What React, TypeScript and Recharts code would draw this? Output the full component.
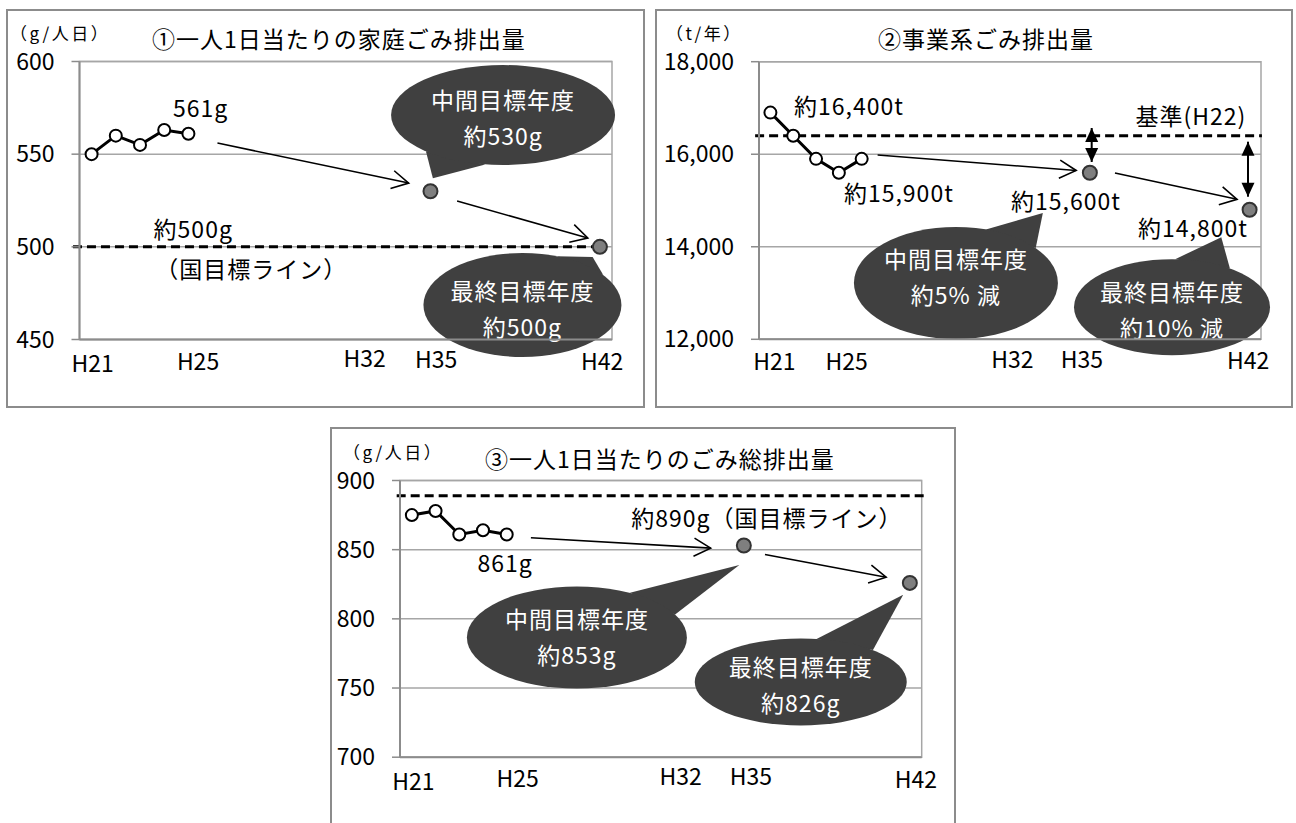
import React from "react"
import { LineChart, Line, XAxis, YAxis, CartesianGrid, ReferenceLine, ReferenceDot, ReferenceArea } from "recharts"

const FONT = "'Noto Sans CJK JP', 'Noto Sans', sans-serif"
const GRID = "#a6a6a6"
const AXIS = "#8c8c8c"
const BUBBLE = "#404040"

// 年度 (平成)
const years = [21, 22, 23, 24, 25]
const targetYears = [35, 42]
const xTicks = [21, 25, 32, 35, 42]

// ① 一人1日当たりの家庭ごみ排出量 (g/人日)
const household = [550, 560, 555, 563, 561]
const householdTarget = [530, 500]
const householdLine = 500
const householdTicks = [450, 500, 550, 600]

// ② 事業系ごみ排出量 (t/年)
const business = [16900, 16400, 15900, 15600, 15900]
const businessTarget = [15600, 14800]
const businessBase = 16400
const businessTicks = [12000, 14000, 16000, 18000]

// ③ 一人1日当たりのごみ総排出量 (g/人日)
const total = [875, 878, 861, 864, 861]
const totalTarget = [853, 826]
const totalLine = 889
const totalTicks = [700, 750, 800, 850, 900]

const buildRows = (actual: number[], target: number[]) => [
  ...years.map((year, i) => ({ year, actual: actual[i] })),
  ...targetYears.map((year, i) => ({ year, target: target[i] })),
]

const openArrow = (p: any) => {
  const { x1, y1, x2, y2 } = p
  const a = Math.atan2(y2 - y1, x2 - x1)
  const L = 19
  const s = 0.5
  const h1 = [x2 - L * Math.cos(a - s), y2 - L * Math.sin(a - s)]
  const h2 = [x2 - L * Math.cos(a + s), y2 - L * Math.sin(a + s)]
  return (
    <g>
      <line x1={x1} y1={y1} x2={x2} y2={y2} stroke="#000" strokeWidth={1.6} />
      <polyline points={`${h1[0]},${h1[1]} ${x2},${y2} ${h2[0]},${h2[1]}`} fill="none" stroke="#000" strokeWidth={1.6} />
    </g>
  )
}

const doubleArrow = (p: any) => {
  const { x1, y1, x2, y2 } = p
  const a = Math.atan2(y2 - y1, x2 - x1)
  const L = 14
  const W = 6.5
  const head = (tx: number, ty: number, dir: number) => {
    const bx = tx - dir * L * Math.cos(a)
    const by = ty - dir * L * Math.sin(a)
    const nx = -Math.sin(a) * W
    const ny = Math.cos(a) * W
    return `${tx},${ty} ${bx + nx},${by + ny} ${bx - nx},${by - ny}`
  }
  return (
    <g>
      <line x1={x1} y1={y1} x2={x2} y2={y2} stroke="#000" strokeWidth={2} />
      <polygon points={head(x1, y1, -1)} fill="#000" />
      <polygon points={head(x2, y2, 1)} fill="#000" />
    </g>
  )
}

const bubbleShape = (p: any, b: any) => {
  const { x1: cx, y1: cy, x2: tx, y2: ty } = p
  const t = Math.atan2((ty - cy) / b.ry, (tx - cx) / b.rx)
  const w = 0.3
  const b1 = [cx + b.rx * Math.cos(t - w), cy + b.ry * Math.sin(t - w)]
  const b2 = [cx + b.rx * Math.cos(t + w), cy + b.ry * Math.sin(t + w)]
  const mid = cy + (b.dy || 0)
  return (
    <g>
      <polygon points={`${b1[0]},${b1[1]} ${tx},${ty} ${b2[0]},${b2[1]}`} fill={BUBBLE} />
      <ellipse cx={cx} cy={cy} rx={b.rx} ry={b.ry} fill={BUBBLE} />
      <text x={cx} y={mid - 18} textAnchor="middle" dominantBaseline="central" fill="#fff" fontSize={23} letterSpacing={1} fontFamily={FONT}>
        {b.lines[0]}
      </text>
      <text x={cx} y={mid + 18} textAnchor="middle" dominantBaseline="central" fill="#fff" fontSize={23} letterSpacing={1} fontFamily={FONT}>
        {b.lines[1]}
      </text>
    </g>
  )
}

const XTick = ({ x, y, payload, shift }: any) => {
  const s = shift[payload.value] || [0, 20]
  return (
    <text x={x + s[0]} y={y + s[1]} textAnchor="middle" dominantBaseline="central" fontSize={23} fontFamily={FONT} fill="#000">
      {`H${payload.value}`}
    </text>
  )
}

const panels = [
  {
    box: { left: 6, top: 9, width: 639, height: 399 },
    margin: { top: 52.5, right: 33, bottom: 38.5, left: 23.5 },
    rows: buildRows(household, householdTarget),
    domain: [450, 600],
    ticks: householdTicks,
    dashY: householdLine,
    dashX: [20.23, 42.3],
    shift: { 21: [1, 22], 25: [9.6, 20.5], 32: [6.8, 17.5], 35: [5.6, 18.2], 42: [2.2, 20.5] },
    notes: [
      { x: 25.5, y: 575.5, text: "561g" },
      { x: 25.2, y: 510, text: "約500g" },
      { x: 27.6, y: 488.6, text: "（国目標ライン）" },
    ],
    arrows: [
      [26.2, 556, 34.1, 534.4],
      [36.1, 524.7, 41.5, 504.8],
    ],
    dbl: [],
    bubbles: [
      { cx: 38.0, cy: 571.1, tx: 35.1, ty: 537, rx: 112, ry: 50, dy: 2, lines: ["中間目標年度", "約530g"] },
      { cx: 38.8, cy: 468.6, tx: 41.7, ty: 494.5, rx: 99, ry: 52, dy: 3, lines: ["最終目標年度", "約500g"] },
    ],
  },
  {
    box: { left: 656, top: 9, width: 637, height: 399 },
    margin: { top: 52.7, right: 32, bottom: 38.7, left: 53 },
    rows: buildRows(business, businessTarget),
    domain: [12000, 18000],
    ticks: businessTicks,
    dashY: businessBase,
    dashX: [20.33, 42.54],
    shift: { 21: [4, 21], 25: [-15, 21], 32: [-9, 19], 35: [-8, 19], 42: [-1.5, 20] },
    notes: [
      { x: 24.44, y: 17064, text: "約16,400t" },
      { x: 26.63, y: 15184, text: "約15,900t" },
      { x: 33.95, y: 15011, text: "約15,600t" },
      { x: 39.52, y: 14427, text: "約14,800t" },
      { x: 39.43, y: 16848, text: "基準(H22)" },
    ],
    arrows: [
      [25.7, 15984, 34.4, 15649],
      [36.1, 15595, 41.45, 15026],
    ],
    dbl: [
      [35.08, 16567, 35.08, 15832],
      [41.93, 16271, 41.93, 15082],
    ],
    bubbles: [
      { cx: 29.13, cy: 13217, tx: 32.94, ty: 14730, rx: 102, ry: 56, dy: -7, lines: ["中間目標年度", "約5% 減"] },
      { cx: 38.6, cy: 12694, tx: 40.76, ty: 14207, rx: 98, ry: 48, dy: 2, lines: ["最終目標年度", "約10% 減"] },
    ],
  },
  {
    box: { left: 331, top: 427.5, width: 624, height: 395.5 },
    margin: { top: 52.5, right: 33.3, bottom: 36.3, left: 19 },
    rows: buildRows(total, totalTarget),
    domain: [700, 900],
    ticks: totalTicks,
    dashY: totalLine,
    dashX: [20.36, 42.74],
    shift: { 21: [1.6, 23], 25: [11, 20], 32: [8, 18], 35: [7, 18], 42: [6, 21] },
    notes: [
      { x: 24.93, y: 840.95, text: "861g" },
      { x: 35.97, y: 873.3, text: "約890g（国目標ライン）" },
    ],
    arrows: [
      [26.02, 858.6, 33.6, 851.1],
      [35.89, 846.5, 41.0, 830.1],
    ],
    dbl: [],
    bubbles: [
      { cx: 27.96, cy: 786.5, tx: 34.81, ty: 839, rx: 110, ry: 51, dy: -2, lines: ["中間目標年度", "約853g"] },
      { cx: 37.4, cy: 754.4, tx: 41.72, ty: 817.4, rx: 106, ry: 43.5, dy: 2.5, lines: ["最終目標年度", "約826g"] },
    ],
  },
]

function WastePanel({ cfg }: { cfg: any }) {
  return (
    <div style={{ position: "absolute", ...cfg.box }}>
      <LineChart width={cfg.box.width} height={cfg.box.height} data={cfg.rows} margin={cfg.margin}>
        <CartesianGrid vertical={false} stroke={GRID} strokeWidth={1.5} />
        <ReferenceArea x1={20.5} x2={42.5} y1={cfg.domain[0]} y2={cfg.domain[1]} fill="none" stroke={GRID} strokeWidth={1.5} ifOverflow="visible" />
        <XAxis
          type="number"
          dataKey="year"
          domain={[20.5, 42.5]}
          ticks={xTicks}
          interval={0}
          allowDataOverflow
          height={30}
          tickLine={false}
          tickSize={0}
          tickMargin={0}
          axisLine={{ stroke: AXIS, strokeWidth: 2 }}
          tick={(p: any) => <XTick {...p} shift={cfg.shift} />}
        />
        <YAxis
          type="number"
          domain={cfg.domain}
          ticks={cfg.ticks}
          interval={0}
          allowDataOverflow
          width={50}
          tickSize={8}
          tickMargin={17}
          axisLine={{ stroke: AXIS, strokeWidth: 2 }}
          tickLine={{ stroke: AXIS, strokeWidth: 1.5 }}
          tick={{ fill: "#000", fontSize: 23, fontFamily: FONT }}
          tickFormatter={(v: number) => v.toLocaleString("en-US")}
        />
        <Line
          dataKey="actual"
          stroke="#000"
          strokeWidth={3}
          dot={{ r: 6, fill: "#fff", stroke: "#000", strokeWidth: 2 }}
          activeDot={false}
          isAnimationActive={false}
        />
        <Line
          dataKey="target"
          stroke="none"
          dot={{ r: 7, fill: "#7f7f7f", stroke: "#333", strokeWidth: 2 }}
          activeDot={false}
          isAnimationActive={false}
        />
        <ReferenceLine
          segment={[{ x: cfg.dashX[0], y: cfg.dashY }, { x: cfg.dashX[1], y: cfg.dashY }]}
          stroke="#000"
          strokeWidth={3}
          strokeDasharray="9 5"
          ifOverflow="visible"
        />
        {cfg.arrows.map((a: number[], i: number) => (
          <ReferenceLine key={`a${i}`} segment={[{ x: a[0], y: a[1] }, { x: a[2], y: a[3] }]} ifOverflow="visible" shape={openArrow} />
        ))}
        {cfg.dbl.map((a: number[], i: number) => (
          <ReferenceLine key={`d${i}`} segment={[{ x: a[0], y: a[1] }, { x: a[2], y: a[3] }]} ifOverflow="visible" shape={doubleArrow} />
        ))}
        {cfg.bubbles.map((b: any, i: number) => (
          <ReferenceLine
            key={`b${i}`}
            segment={[{ x: b.cx, y: b.cy }, { x: b.tx, y: b.ty }]}
            ifOverflow="visible"
            shape={(p: any) => bubbleShape(p, b)}
          />
        ))}
        {cfg.notes.map((n: any, i: number) => (
          <ReferenceDot
            key={`n${i}`}
            x={n.x}
            y={n.y}
            r={0}
            ifOverflow="visible"
            shape={(p: any) => (
              <text x={p.cx} y={p.cy} textAnchor="middle" dominantBaseline="central" fontSize={23} letterSpacing={1} fontFamily={FONT} fill="#000">
                {n.text}
              </text>
            )}
          />
        ))}
      </LineChart>
    </div>
  )
}

const frame = (left: number, top: number, width: number, height: number) => (
  <div
    style={{
      position: "absolute",
      left,
      top,
      width,
      height,
      border: "2px solid #8c8c8c",
      boxSizing: "border-box",
    }}
  />
)

export default function App() {
  return (
    <div style={{ position: "absolute", left: 0, top: 0, width: 1296, height: 823, overflow: "hidden", background: "#fff" }}>
      {frame(6, 9, 639, 399)}
      {frame(655, 9, 638, 399)}
      {frame(330, 427, 626, 420)}
      {panels.map((cfg, i) => (
        <WastePanel key={i} cfg={cfg} />
      ))}
      <svg width={1296} height={823} style={{ position: "absolute", left: 0, top: 0, pointerEvents: "none" }}>
        <g fontFamily={FONT} fill="#000" dominantBaseline="central">
          <text x={10} y={32} fontSize={17} letterSpacing={2.5}>（g/人日）</text>
          <text x={152} y={37.5} fontSize={23} letterSpacing={1}>①一人1日当たりの家庭ごみ排出量</text>
          <text x={666} y={32} fontSize={17} letterSpacing={2.5}>（t/年）</text>
          <text x={878} y={37.5} fontSize={23} letterSpacing={1}>②事業系ごみ排出量</text>
          <text x={343} y={451.5} fontSize={17} letterSpacing={2.5}>（g/人日）</text>
          <text x={485} y={457.5} fontSize={23} letterSpacing={1}>③一人1日当たりのごみ総排出量</text>
        </g>
      </svg>
    </div>
  )
}
